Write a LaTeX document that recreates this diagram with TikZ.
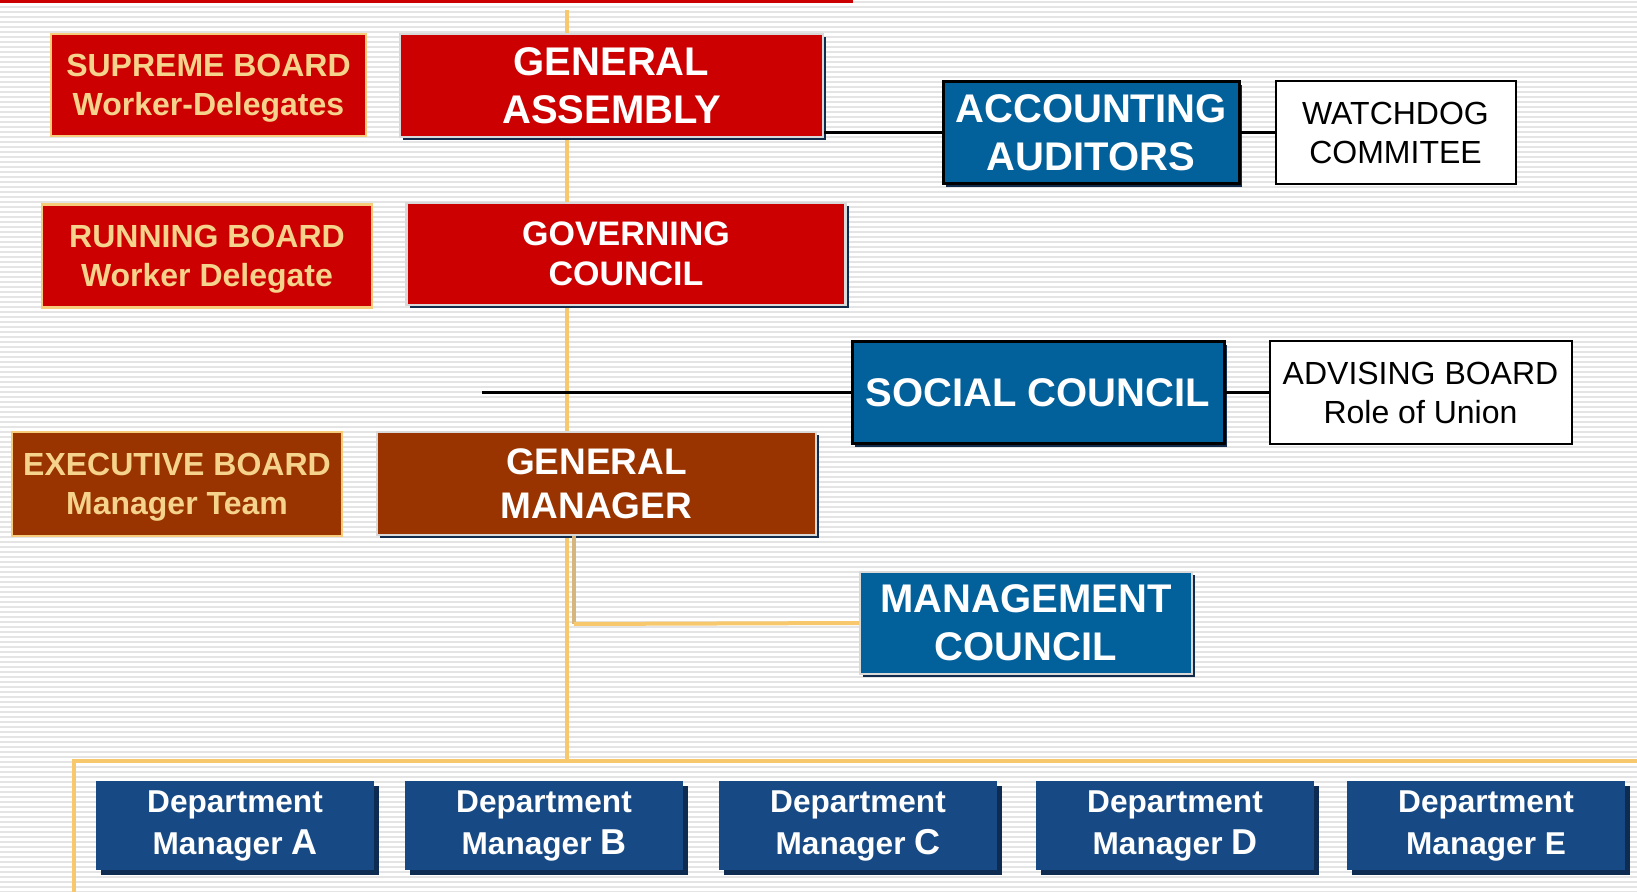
\documentclass[tikz,border=0pt]{standalone}
\usepackage{fontspec}
\setmainfont{Liberation Sans}
\usetikzlibrary{positioning,shadows}

\definecolor{boxred}{HTML}{CC0000}
\definecolor{boxbrown}{HTML}{993300}
\definecolor{boxblue}{HTML}{02609A}
\definecolor{deptblue}{HTML}{174A84}
\definecolor{deptshade}{HTML}{0E2C52}
\definecolor{navyshade}{HTML}{102B4C}
\definecolor{goldtext}{HTML}{F5D38C}
\definecolor{goldrim}{HTML}{F6CC7A}
\definecolor{rimgray}{HTML}{D9D9D9}
\definecolor{linkorange}{HTML}{F7C96C}
\definecolor{linktan}{HTML}{D6B67C}
\definecolor{stripegray}{HTML}{E4E4E4}

\newcommand{\mgrletter}[1]{{\fontsize{18}{21}\selectfont #1}}

\tikzset{
  unit/.style={rectangle, inner sep=0pt, align=center},
  board/.style={unit, draw=goldrim, line width=1.2pt, text=goldtext, text depth=0pt,
    font=\bfseries\fontsize{16}{19.5}\selectfont},
  organ/.style={unit, draw=rimgray, line width=1.2pt, text=white,
    drop shadow={shadow xshift=1.5pt, shadow yshift=-1.5pt, fill=navyshade, opacity=1}},
  council/.style={unit, draw=black, line width=1.5pt, fill=boxblue, text=white,
    font=\bfseries\fontsize{20}{24}\selectfont,
    drop shadow={shadow xshift=1.5pt, shadow yshift=-1.5pt, fill=navyshade, opacity=1}},
  advisor/.style={unit, draw=black, line width=1pt, fill=white,
    font=\fontsize{16}{19.3}\selectfont},
  dept/.style={unit, fill=deptblue, text=white, minimum width=139pt, minimum height=44.5pt,
    font=\bfseries\fontsize{15.8}{21}\selectfont,
    drop shadow={shadow xshift=2.5pt, shadow yshift=-2.5pt, fill=deptshade, opacity=1}},
  orangeline/.style={draw=linkorange, line width=2pt},
  tanline/.style={draw=linktan, line width=2pt},
  blackline/.style={draw=black, line width=1.5pt}
}

\begin{document}
\begin{tikzpicture}[x=0.5pt, y=-0.5pt]

  \useasboundingbox (0,0) rectangle (1637,892);
  \fill[white] (0,0) rectangle (1637,892);
  \foreach \y in {1,6,...,891}
    \fill[stripegray] (0,\y) rectangle (1637,\y+1.6);
  \fill[boxred] (0,0) rectangle (853,3);

  % spine and bus
  \coordinate (spine) at (567,10);
  \coordinate (busL) at (74,761);
  \coordinate (busR) at (1637,761);
  \coordinate (busend) at (74,892);
  \draw[orangeline] (spine) -- (spine |- busL);
  \draw[orangeline] (busend) -- (busL) -- (busR);

  % left column
  \node[board, fill=boxred] (supreme) at (208.5,85) [minimum width=157.5pt, minimum height=51pt] {SUPREME BOARD\\Worker-Delegates};
  \node[board, fill=boxred] (running) at (207,256) [minimum width=165pt, minimum height=51.5pt] {RUNNING BOARD\\Worker Delegate};
  \node[board, fill=boxbrown] (exec) at (177,484) [minimum width=165pt, minimum height=52pt] {EXECUTIVE BOARD\\Manager Team};

  % main column
  \node[organ, fill=boxred, font=\bfseries\fontsize{20}{24}\selectfont] (ga) at (611.5,85.5) [minimum width=211.5pt, minimum height=51.5pt] {GENERAL\\ASSEMBLY};
  \node[organ, fill=boxred, font=\bfseries\fontsize{17}{20}\selectfont] (gov) at (626,254) [minimum width=219.5pt, minimum height=51pt] {GOVERNING\\COUNCIL};
  \node[organ, fill=boxbrown, font=\bfseries\fontsize{18.5}{22}\selectfont] (gm) at (596.5,483.5) [minimum width=219.5pt, minimum height=51.5pt] {GENERAL\\MANAGER};

  % councils
  \node[council] (acc) at (1091,133) [minimum width=148pt, minimum height=51pt] {ACCOUNTING\\AUDITORS};
  \node[advisor] (watch) [right=17pt of acc, minimum width=120pt, minimum height=51.5pt] {WATCHDOG\\COMMITEE};
  \node[council] (soc) at (1038,393) [minimum width=186pt, minimum height=51pt] {SOCIAL COUNCIL};
  \node[advisor] (adv) [right=21.5pt of soc, minimum width=151pt, minimum height=51.5pt] {ADVISING BOARD\\Role of Union};
  \node[council, draw=rimgray, line width=1pt] (mgmt) at (1026,623) [minimum width=166pt, minimum height=51pt] {MANAGEMENT\\COUNCIL};

  % department managers
  \foreach \x/\n/\l in {235/a/\mgrletter{A}, 544/b/\mgrletter{B}, 858/c/\mgrletter{C}, 1175/d/\mgrletter{D}, 1486/e/E}
    \node[dept] (dept\n) at (\x,825.5) {Department\\Manager \l};

  % links
  \coordinate (socfeed) at (482,393);
  \coordinate (mcorner) at (574,624);
  \path[blackline] (ga.east |- acc.west) edge (acc.west);
  \path[blackline] (acc.east) edge (watch.west);
  \path[blackline] (socfeed) edge (soc.west);
  \path[blackline] (soc.east) edge (adv.west);
  \draw[tanline] (mcorner |- gm.south) -- (mcorner);
  \draw[orangeline] (mcorner) -- (mgmt.west);

\end{tikzpicture}
\end{document}
